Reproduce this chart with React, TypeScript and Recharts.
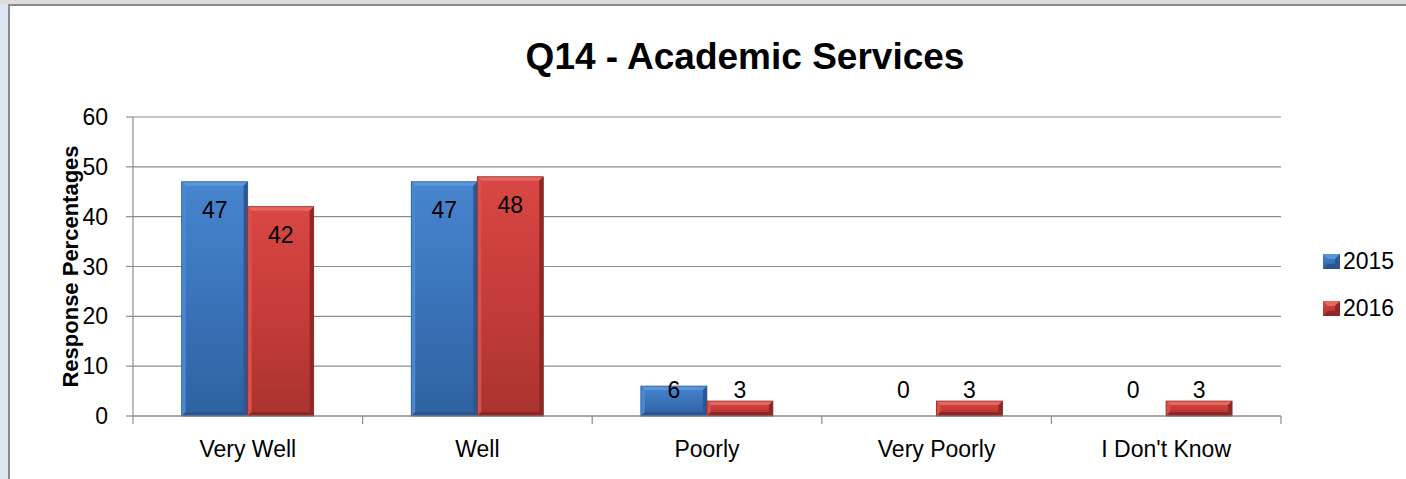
import React from 'react';
import {
  BarChart,
  Bar,
  XAxis,
  YAxis,
  CartesianGrid,
  Legend,
  LabelList,
} from 'recharts';

const categories = ['Very Well', 'Well', 'Poorly', 'Very Poorly', "I Don't Know"];
const values2015 = [47, 47, 6, 0, 0];
const values2016 = [42, 48, 3, 3, 3];
const yTicks = [0, 10, 20, 30, 40, 50, 60];

const data = categories.map((category, i) => ({
  category,
  y2015: values2015[i],
  y2016: values2016[i],
}));

const FONT = '"Liberation Sans", Arial, sans-serif';
const AXIS_GRAY = '#8c8c8c';
const X_TICK_SIZE = 8;
const X_TICK_MARGIN = 17;

const palettes = {
  blue: {
    id: 'gradBlue',
    top: '#5b96dc',
    left: '#4a88d2',
    right: '#2b5792',
    bottom: '#2a5590',
    edge: '#2d5a92',
    stops: ['#4785cf', '#3a73ba', '#2f619f'],
  },
  red: {
    id: 'gradRed',
    top: '#e5675f',
    left: '#d8504a',
    right: '#8f2824',
    bottom: '#8e2723',
    edge: '#8e2a26',
    stops: ['#d84744', '#c63c38', '#a93330'],
  },
};

type Palette = typeof palettes.blue;

const makeBevelBar = (p: Palette) => (props: any) => {
  const { x, y, width, height } = props;
  if (!height || height <= 0) return null;
  const b = Math.min(4, height / 2, width / 2);
  const x2 = x + width;
  const y2 = y + height;
  return (
    <g>
      <rect x={x} y={y} width={width} height={height} fill={`url(#${p.id})`} />
      <polygon
        points={`${x},${y} ${x2},${y} ${x2 - b},${y + b} ${x + b},${y + b}`}
        fill={p.top}
      />
      <polygon
        points={`${x},${y} ${x + b},${y + b} ${x + b},${y2 - b} ${x},${y2}`}
        fill={p.left}
      />
      <polygon
        points={`${x2},${y} ${x2},${y2} ${x2 - b},${y2 - b} ${x2 - b},${y + b}`}
        fill={p.right}
      />
      <polygon
        points={`${x},${y2} ${x + b},${y2 - b} ${x2 - b},${y2 - b} ${x2},${y2}`}
        fill={p.bottom}
      />
      <rect
        x={x}
        y={y}
        width={width}
        height={height}
        fill="none"
        stroke={p.edge}
        strokeWidth={0.8}
      />
    </g>
  );
};

const BlueBar = makeBevelBar(palettes.blue);
const RedBar = makeBevelBar(palettes.red);

// Excel places the label inside the bar end, or just above the axis when the bar is short
const renderValueLabel = (props: any) => {
  const { x, y, width, height, value } = props;
  const h = height || 0;
  const cy = Math.min(y + 28, y + h - 26);
  return (
    <text
      x={x + width / 2}
      y={cy}
      textAnchor="middle"
      dominantBaseline="central"
      fontFamily={FONT}
      fontSize={23}
      fill="#000"
    >
      {value}
    </text>
  );
};

// category label plus tick marks on the category boundaries (Excel style)
const renderCategoryTick = (props: any) => {
  const { x, y, payload, index, visibleTicksCount } = props;
  const half = payload && payload.offset ? payload.offset : 0;
  const axisY = y - X_TICK_SIZE - X_TICK_MARGIN;
  const isLast = index === (visibleTicksCount || categories.length) - 1;
  return (
    <g>
      <line
        x1={x - half}
        x2={x - half}
        y1={axisY}
        y2={axisY + X_TICK_SIZE}
        stroke={AXIS_GRAY}
        strokeWidth={1.2}
      />
      {isLast && (
        <line
          x1={x + half}
          x2={x + half}
          y1={axisY}
          y2={axisY + X_TICK_SIZE}
          stroke={AXIS_GRAY}
          strokeWidth={1.2}
        />
      )}
      <text
        x={x}
        y={y}
        dy="0.71em"
        textAnchor="middle"
        fontFamily={FONT}
        fontSize={23}
        fill="#000"
      >
        {payload.value}
      </text>
    </g>
  );
};

const renderYLabel = (props: any) => {
  const vb = props.viewBox || {};
  const cx = (vb.x || 0) + 70;
  const cy = (vb.y || 0) + (vb.height || 0) / 2;
  return (
    <text
      x={cx}
      y={cy}
      transform={`rotate(-90, ${cx}, ${cy})`}
      textAnchor="middle"
      dominantBaseline="central"
      fontFamily={FONT}
      fontSize={22}
      fontWeight="bold"
      fill="#000"
    >
      Response Percentages
    </text>
  );
};

const LegendIcon = ({ p }: { p: Palette }) => (
  <svg width={17} height={15} style={{ display: 'block' }}>
    <defs>
      <linearGradient id={`${p.id}-icon`} x1="0" y1="0" x2="0" y2="1">
        <stop offset="0%" stopColor={p.stops[0]} />
        <stop offset="100%" stopColor={p.stops[2]} />
      </linearGradient>
    </defs>
    <rect x={0} y={0} width={17} height={15} fill={`url(#${p.id}-icon)`} />
    <polygon points="0,0 17,0 12,5 5,5" fill={p.top} />
    <polygon points="0,15 5,10 12,10 17,15" fill={p.bottom} />
    <polygon points="17,0 17,15 12,10 12,5" fill={p.right} />
  </svg>
);

const renderLegend = () => (
  <div style={{ fontFamily: FONT, fontSize: 23, color: '#000' }}>
    {[
      { name: '2015', p: palettes.blue },
      { name: '2016', p: palettes.red },
    ].map((item, i) => (
      <div
        key={item.name}
        style={{
          display: 'flex',
          alignItems: 'center',
          height: 30,
          marginTop: i === 0 ? 0 : 17,
        }}
      >
        <LegendIcon p={item.p} />
        <span style={{ marginLeft: 3, lineHeight: '30px' }}>{item.name}</span>
      </div>
    ))}
  </div>
);

export default function App() {
  return (
    <div
      style={{
        position: 'absolute',
        left: 0,
        top: 0,
        width: 1406,
        height: 479,
        background: '#fff',
        overflow: 'hidden',
      }}
    >
      {/* window chrome around the chart */}
      <div style={{ position: 'absolute', left: 0, top: 0, width: 1406, height: 4, background: '#dcdcdc' }} />
      <div style={{ position: 'absolute', left: 0, top: 4, width: 1406, height: 2, background: '#8a8a8a' }} />
      <div style={{ position: 'absolute', left: 0, top: 4, width: 8, height: 475, background: '#dce6f2' }} />
      <div style={{ position: 'absolute', left: 8, top: 4, width: 2, height: 475, background: '#8a8a8a' }} />

      <div
        style={{
          position: 'absolute',
          left: 445,
          top: 38,
          width: 600,
          textAlign: 'center',
          fontFamily: FONT,
          fontSize: 37,
          lineHeight: '37px',
          fontWeight: 'bold',
          color: '#000',
        }}
      >
        Q14 - Academic Services
      </div>

      <div style={{ position: 'absolute', left: 0, top: 0 }}>
        <BarChart
          width={1406}
          height={479}
          data={data}
          margin={{ top: 117, right: 125, left: 0, bottom: 23 }}
          barCategoryGap="21.2%"
          barGap={0}
        >
          <defs>
            {[palettes.blue, palettes.red].map((p) => (
              <linearGradient key={p.id} id={p.id} x1="0" y1="0" x2="0" y2="1">
                <stop offset="0%" stopColor={p.stops[0]} />
                <stop offset="50%" stopColor={p.stops[1]} />
                <stop offset="100%" stopColor={p.stops[2]} />
              </linearGradient>
            ))}
          </defs>
          <CartesianGrid vertical={false} stroke={AXIS_GRAY} strokeWidth={1.2} />
          <XAxis
            dataKey="category"
            tickLine={false}
            tickSize={X_TICK_SIZE}
            tickMargin={X_TICK_MARGIN}
            axisLine={{ stroke: AXIS_GRAY, strokeWidth: 1.2 }}
            tick={renderCategoryTick}
            height={40}
            interval={0}
          />
          <YAxis
            width={133}
            domain={[0, 60]}
            ticks={yTicks}
            interval={0}
            tickSize={7}
            tickMargin={18}
            tickLine={{ stroke: AXIS_GRAY, strokeWidth: 1.2 }}
            axisLine={{ stroke: AXIS_GRAY, strokeWidth: 1.2 }}
            tick={{ fontFamily: FONT, fontSize: 23, fill: '#000' }}
            label={{ content: renderYLabel }}
          />
          <Legend
            content={renderLegend}
            wrapperStyle={{
              position: 'absolute',
              left: 1323,
              top: 246,
              width: 90,
              height: 0,
              overflow: 'visible',
            }}
          />
          <Bar dataKey="y2015" name="2015" shape={BlueBar} isAnimationActive={false}>
            <LabelList dataKey="y2015" content={renderValueLabel} />
          </Bar>
          <Bar dataKey="y2016" name="2016" shape={RedBar} isAnimationActive={false}>
            <LabelList dataKey="y2016" content={renderValueLabel} />
          </Bar>
        </BarChart>
      </div>
    </div>
  );
}
